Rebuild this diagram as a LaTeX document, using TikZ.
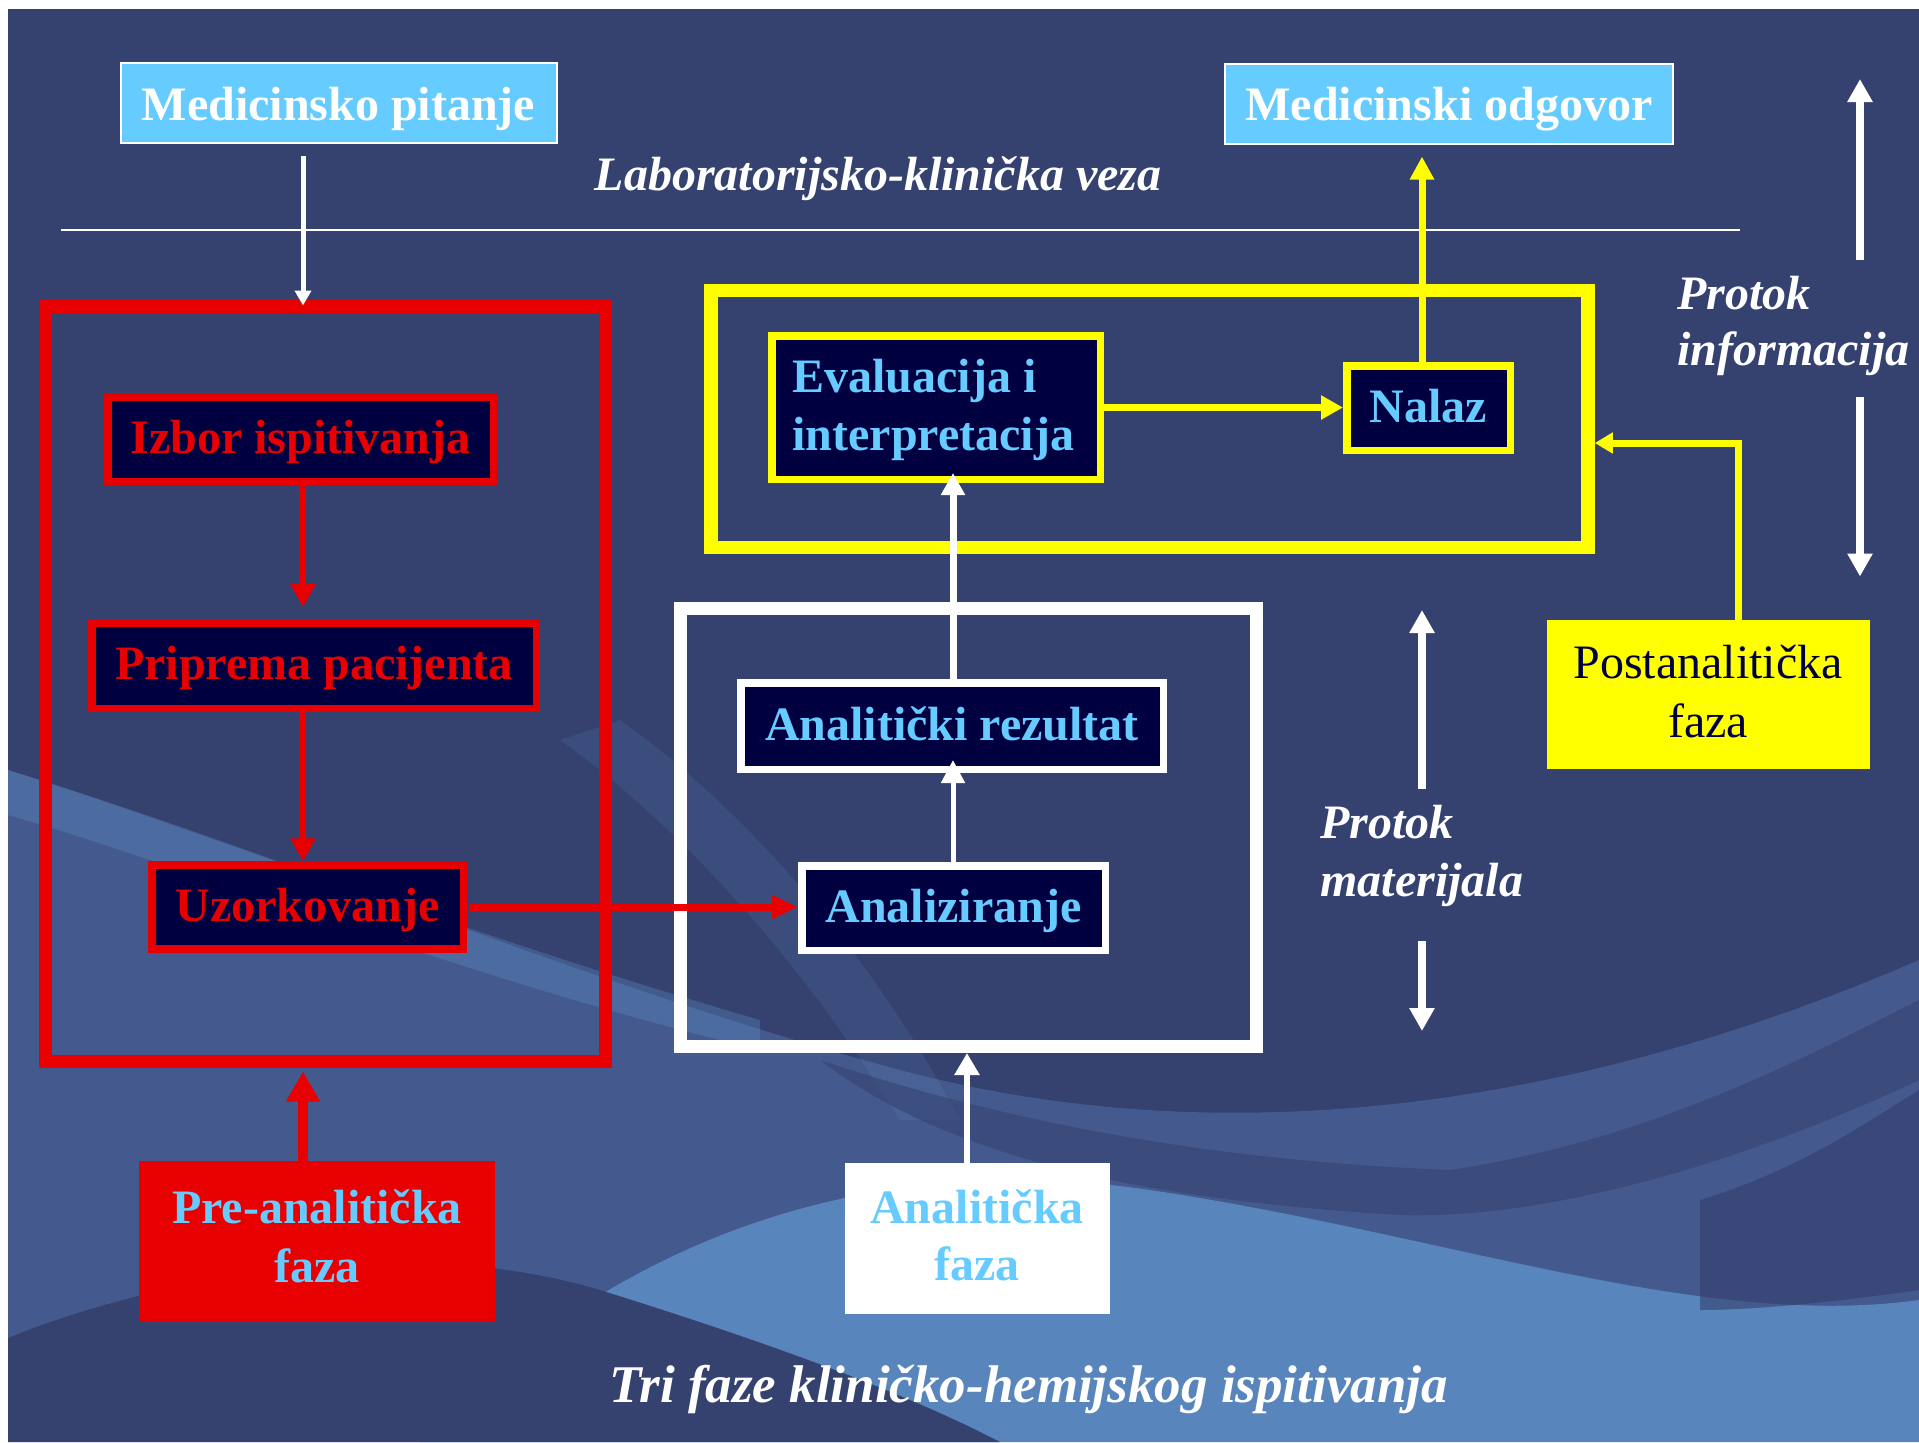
\documentclass[tikz,border=0pt]{standalone}
\usepackage{fontspec}
\setmainfont{Liberation Serif}
\usetikzlibrary{arrows.meta}
\definecolor{bgnavy}{RGB}{53,65,111}
\definecolor{bgdark}{RGB}{52,62,108}
\definecolor{bgmid}{RGB}{88,120,178}
\definecolor{bglight}{RGB}{96,152,208}
\definecolor{boxnavy}{RGB}{0,0,64}
\definecolor{lblue}{RGB}{102,204,255}
\definecolor{myred}{RGB}{232,0,0}
\definecolor{myyellow}{RGB}{255,255,0}
\tikzset{
  bt/.style={font=\fontsize{24pt}{29pt}\selectfont\bfseries},
  bit/.style={font=\fontsize{24pt}{29pt}\selectfont\bfseries\itshape, text=white, inner sep=0pt},
  rt/.style={font=\fontsize{24pt}{29pt}\selectfont},
  inbox/.style={bt, fill=boxnavy, line width=3.75pt, inner sep=0pt, text height=16pt, text depth=2pt},
  topbox/.style={bt, fill=lblue, draw=white, line width=1pt, text=white, inner sep=0pt, text height=17pt, text depth=0pt},
  frame/.style={line width=6.5pt, inner sep=0pt},
  phase/.style={inner sep=0pt},
  ptext/.style={bt, inner sep=0pt, anchor=base},
  tipR/.style={-{Triangle[width=12pt,length=11.5pt]}},
}
\begin{document}
\begin{tikzpicture}[x=0.5pt,y=-0.5pt]
\useasboundingbox (0,0) rectangle (1919,1442);
\fill[white] (0,0) rectangle (1919,1442);
\fill[bgnavy] (8,9) rectangle (1919,1442);
% background waves
\begin{scope}
\clip (8,9) rectangle (1919,1442);
\fill[bgmid, opacity=0.45] (8,770) .. controls (300,860) and (600,990) .. (900,1070) .. controls (1200,1150) and (1550,1120) .. (1919,960) -- (1919,1442) -- (8,1442) -- cycle;
\fill[bglight, opacity=0.3] (8,770) .. controls (200,830) and (450,930) .. (760,1020) -- (760,1050) .. controls (450,975) and (200,870) .. (8,815) -- cycle;
\fill[bglight, opacity=0.15] (560,740) .. controls (700,840) and (820,990) .. (900,1120) -- (960,1120) .. controls (880,970) and (760,820) .. (620,720) -- cycle;
\fill[bgdark, opacity=0.5] (820,1060) .. controls (1000,1120) and (1200,1160) .. (1450,1170) .. controls (1650,1140) and (1800,1060) .. (1919,1000) -- (1919,1080) .. controls (1750,1160) and (1550,1220) .. (1400,1215) .. controls (1150,1200) and (950,1160) .. (820,1060) -- cycle;
\fill[bglight, opacity=0.7] (420,1442) .. controls (620,1230) and (880,1150) .. (1150,1190) .. controls (1450,1235) and (1700,1330) .. (1919,1300) -- (1919,1442) -- cycle;
\fill[bgdark, opacity=0.6] (1700,1200) .. controls (1800,1170) and (1870,1120) .. (1919,1090) -- (1919,1290) .. controls (1850,1300) and (1760,1310) .. (1700,1310) -- cycle;
\fill[bgnavy] (8,1338) .. controls (150,1280) and (400,1230) .. (600,1290) .. controls (760,1340) and (900,1390) .. (1000,1442) -- (8,1442) -- cycle;
\end{scope}

% horizontal separator
\coordinate (h1) at (61,230);
\coordinate (h2) at (1740,230);
\draw[white, line width=1pt] (h1) -- (h2);

% top boxes
\node[topbox, minimum width=218pt, minimum height=40pt] (mp) at (338.5,103) {Medicinsko pitanje};
\node[topbox, minimum width=224pt, minimum height=40pt] (mo) at (1449,103.5) {Medicinski odgovor};
\node[bit, anchor=base] (veza) at (878,190) {Laboratorijsko-klinička veza};

% frames
\node[frame, draw=myred, minimum width=280pt, minimum height=377.5pt] (redframe) at (325.5,683.5) {};
\node[frame, draw=white, minimum width=287.75pt, minimum height=219pt] (whiteframe) at (968.25,827.5) {};
\node[frame, draw=myyellow, line width=6.75pt, minimum width=438.5pt, minimum height=128.5pt] (yframe) at (1149.5,419) {};

% inner boxes
\node[inbox, draw=myred, text=myred, minimum width=192.75pt, minimum height=42.25pt] (izbor) at (300.5,439) {Izbor ispitivanja};
\node[inbox, draw=myred, text=myred, minimum width=222.25pt, minimum height=42.75pt] (prip) at (314,665.5) {Priprema pacijenta};
\node[inbox, draw=myred, text=myred, minimum width=155.75pt, minimum height=42pt] (uzor) at (307.5,907) {Uzorkovanje};
\node[inbox, draw=white, text=lblue, minimum width=151.75pt, minimum height=42.25pt] (anal) at (953.5,908) {Analiziranje};
\node[inbox, draw=white, text=lblue, minimum width=211.25pt, minimum height=43.25pt] (rez) at (952,726) {Analitički rezultat};
\node[inbox, draw=myyellow, minimum width=164.25pt, minimum height=71.75pt] (eval) at (936,407.5) {};
\node[bt, text=lblue, inner sep=0pt, anchor=base west] (ev1) at (792,392) {Evaluacija i};
\node[bt, text=lblue, inner sep=0pt, anchor=base west] (ev2) at (792,450) {interpretacija};
\node[inbox, draw=myyellow, text=lblue, minimum width=81.75pt, minimum height=42.25pt] (nalaz) at (1428.5,408) {Nalaz};

% phase boxes
\node[phase, fill=myred, minimum width=178pt, minimum height=80.5pt] (pre) at (317,1241.5) {};
\node[ptext, text=lblue] (pre1) at (317,1223.5) {Pre-analitička};
\node[ptext, text=lblue] (pre2) at (317,1282) {faza};
\node[phase, fill=white, minimum width=132.75pt, minimum height=75.5pt] (anf) at (977.25,1238.5) {};
\node[ptext, text=lblue] (anf1) at (977,1223) {Analitička};
\node[ptext, text=lblue] (anf2) at (977,1280) {faza};
\node[phase, fill=myyellow, minimum width=161.5pt, minimum height=74.5pt] (post) at (1708,694.5) {};
\node[rt, text=boxnavy, inner sep=0pt, anchor=base] (post1) at (1708,678.6) {Postanalitička};
\node[rt, text=boxnavy, inner sep=0pt, anchor=base] (post2) at (1708,737) {faza};

% column coordinates
\coordinate (cA) at (303,0);
\coordinate (cB) at (967,0);
\coordinate (cC) at (953,0);
\coordinate (cN) at (1422,0);
\coordinate (cP) at (1738.5,443);

% connectors
\draw[white, line width=2.5pt, -{Triangle[width=8pt,length=7.5pt]}, shorten <=6pt, shorten >=-3pt] (mp.south -| cA) -- (redframe.north -| cA);
\draw[myred, line width=3pt, -{Triangle[width=12pt,length=11.5pt]}, shorten >=6pt] (izbor.south -| cA) -- (prip.north -| cA);
\draw[myred, line width=3pt, -{Triangle[width=12pt,length=11.5pt]}] (prip.south -| cA) -- (uzor.north -| cA);
\draw[myred, line width=3.5pt, -{Triangle[width=11pt,length=13pt]}, shorten <=1.5pt] (uzor.east) -- (uzor.east -| anal.west);
\draw[myred, line width=5pt, -{Triangle[width=16pt,length=15pt]}, shorten >=2pt] (pre.north -| cA) -- (redframe.south -| cA);
\draw[white, line width=3pt, -{Triangle[width=12pt,length=11pt]}] (anf.north -| cB) -- (whiteframe.south -| cB);
\draw[white, line width=2.5pt, -{Triangle[width=11.5pt,length=11.5pt]}, shorten >=-6.5pt] (anal.north -| cC) -- (rez.south -| cC);
\draw[white, line width=3.5pt, -{Triangle[width=11.5pt,length=11pt]}, shorten >=-5pt] (rez.north -| cC) -- (eval.south -| cC);
\draw[myyellow, line width=3.5pt, -{Triangle[width=11.5pt,length=11pt]}] (eval.east) -- (eval.east -| nalaz.west);
\draw[myyellow, line width=3.5pt, -{Triangle[width=11.5pt,length=11.5pt]}, shorten >=6pt] (nalaz.north -| cN) -- (mo.south -| cN);
\draw[myyellow, line width=3.5pt, -{Triangle[width=10pt,length=9pt]}] (post.north -| cP) |- (yframe.east |- cP);

% flow arrows
\coordinate (i1) at (1860,260);
\coordinate (i2) at (1860,79);
\coordinate (i3) at (1860,397);
\coordinate (i4) at (1860,576.5);
\coordinate (m1) at (1422,789);
\coordinate (m2) at (1422,610);
\coordinate (m3) at (1422,941);
\coordinate (m4) at (1422,1031);
\draw[white, line width=4.25pt, tipR] (i1) -- (i2);
\draw[white, line width=4.25pt, tipR] (i3) -- (i4);
\draw[white, line width=4pt, tipR] (m1) -- (m2);
\draw[white, line width=4pt, tipR] (m3) -- (m4);

% free labels
\node[bit, anchor=base west] (pi1) at (1677,309) {Protok};
\node[bit, anchor=base west] (pi2) at (1677,365) {informacija};
\node[bit, anchor=base west] (pm1) at (1320,838) {Protok};
\node[bit, anchor=base west] (pm2) at (1320,896) {materijala};
\node[bit, anchor=base, font=\fontsize{26.5pt}{32pt}\selectfont\bfseries\itshape] (title) at (1028.5,1402) {Tri faze kliničko-hemijskog ispitivanja};
\end{tikzpicture}
\end{document}
